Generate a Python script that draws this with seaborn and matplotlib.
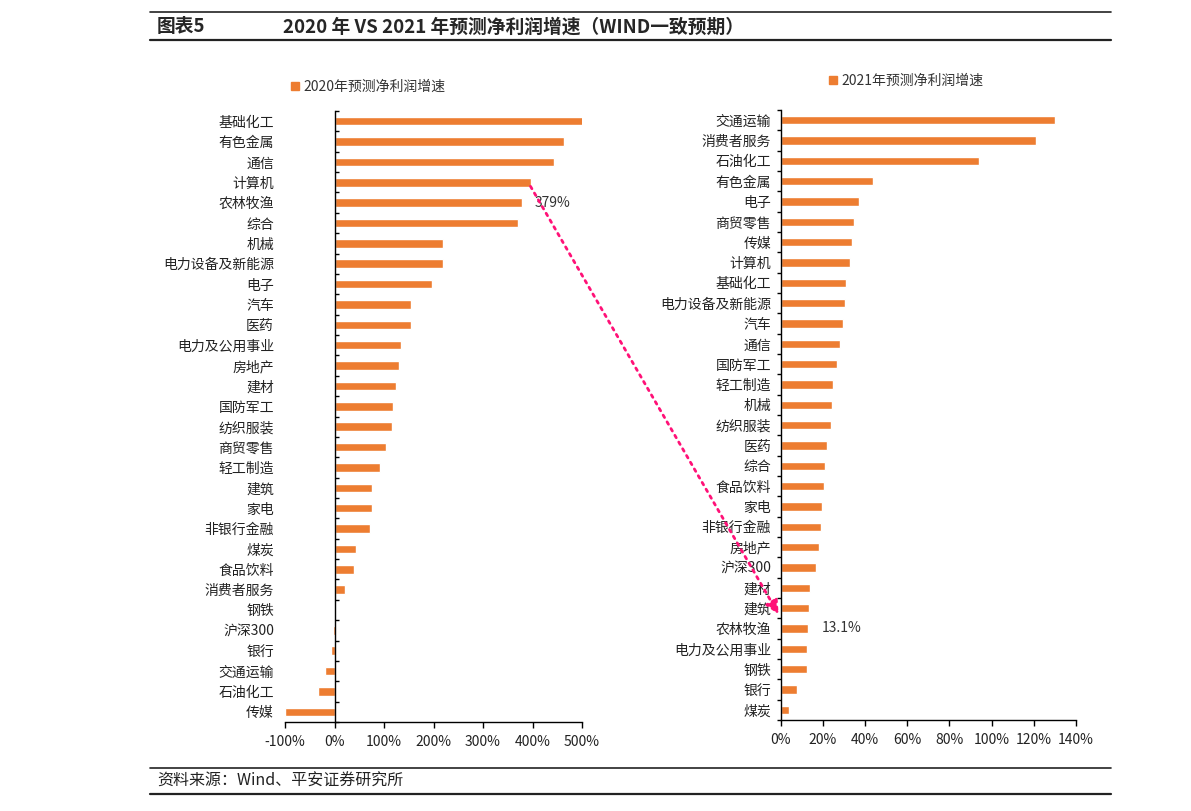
import numpy as np
import seaborn as sns
import matplotlib.pyplot as plt
from matplotlib.patches import ConnectionPatch
from matplotlib.lines import Line2D

sns.set_theme(style="white")
plt.rcParams['font.family'] = ['Noto Sans CJK SC', 'DejaVu Sans']

# 2020 forecast net profit growth (%)
cats_2020 = ['基础化工', '有色金属', '通信', '计算机', '农林牧渔', '综合', '机械', '电力设备及新能源',
             '电子', '汽车', '医药', '电力及公用事业', '房地产', '建材', '国防军工', '纺织服装',
             '商贸零售', '轻工制造', '建筑', '家电', '非银行金融', '煤炭', '食品饮料', '消费者服务',
             '钢铁', '沪深300', '银行', '交通运输', '石油化工', '传媒']
vals_2020 = [503, 463, 444, 396, 379, 370, 220, 220,
             196, 154, 154, 135, 131, 125, 119, 117,
             105, 91, 75, 75, 71, 44, 40, 22,
             1, -3, -7, -19, -34, -101]

# 2021 forecast net profit growth (%)
cats_2021 = ['交通运输', '消费者服务', '石油化工', '有色金属', '电子', '商贸零售', '传媒', '计算机',
             '基础化工', '电力设备及新能源', '汽车', '通信', '国防军工', '轻工制造', '机械', '纺织服装',
             '医药', '综合', '食品饮料', '家电', '非银行金融', '房地产', '沪深300', '建材', '建筑',
             '农林牧渔', '电力及公用事业', '钢铁', '银行', '煤炭']
vals_2021 = [130, 121, 94, 43.7, 37, 34.7, 33.7, 33,
             31, 30.4, 29.5, 28, 26.6, 25, 24.3, 23.8,
             22, 21, 20.5, 19.5, 19.3, 18, 16.6, 14, 13.5,
             13.1, 12.5, 12.3, 7.6, 3.9]

orange = '#ED7D31'
W, H = 1191, 811
fig = plt.figure(figsize=(W / 100, H / 100), dpi=100)

ax1 = fig.add_axes([285 / W, 1 - 722 / H, 297 / W, 611 / H])
ax2 = fig.add_axes([780.7 / W, 1 - 720 / H, 295.3 / W, 610 / H])

sns.barplot(x=vals_2020, y=cats_2020, color=orange, width=0.42, saturation=1, ax=ax1)
sns.barplot(x=vals_2021, y=cats_2021, color=orange, width=0.42, saturation=1, ax=ax2)

ax1.set_xlim(-100, 500)
ax1.set_xticks(np.arange(-100, 501, 100))
ax1.set_xticklabels([f'{v}%' for v in range(-100, 501, 100)])
ax2.set_xlim(0, 140)
ax2.set_xticks(np.arange(0, 141, 20))
ax2.set_xticklabels([f'{v}%' for v in range(0, 141, 20)])

for ax in (ax1, ax2):
    for s in ('top', 'right', 'left'):
        ax.spines[s].set_visible(False)
    ax.spines['bottom'].set_color('black')
    ax.spines['bottom'].set_linewidth(1)
    ax.tick_params(axis='x', which='major', bottom=True, direction='out', length=4,
                   width=1, color='black', labelsize=10, labelcolor='#222222', pad=5)
    ax.tick_params(axis='y', which='major', left=False, right=False, length=0,
                   labelsize=10, labelcolor='#222222')
    ax.set_yticks(np.arange(-0.5, 30, 1), minor=True)
    ax.set_xlabel('')
    ax.set_ylabel('')

# left chart: vertical axis line at 0 with small ticks on its right
ax1.spines['right'].set_visible(True)
ax1.spines['right'].set_position(('data', 0))
ax1.spines['right'].set_color('black')
ax1.spines['right'].set_linewidth(1)
ax1.tick_params(axis='y', which='minor', left=False, right=True, direction='out',
                length=3, width=1, color='black')
ax1.tick_params(axis='y', which='major', pad=8)

ax2.spines['left'].set_visible(True)
ax2.spines['left'].set_color('black')
ax2.spines['left'].set_linewidth(1)
ax2.tick_params(axis='y', which='minor', left=True, direction='out',
                length=3, width=1, color='black')
ax2.tick_params(axis='y', which='major', pad=7)

# legends
for ax, label, y in ((ax1, '2020年预测净利润增速', 87), (ax2, '2021年预测净利润增速', 81)):
    h = Line2D([], [], marker='s', color=orange, linestyle='none', markersize=5.5)
    x0 = 284 if ax is ax1 else 822
    fig.legend([h], [label], loc='center left', bbox_to_anchor=(x0 / W, 1 - y / H),
               frameon=False, fontsize=10, handlelength=0.6, handletextpad=0.3,
               labelcolor='#333333', borderpad=0)

# annotations
i_a = cats_2020.index('农林牧渔')
ax1.text(vals_2020[i_a] + 25, i_a, f'{vals_2020[i_a]}%', va='center', ha='left',
         fontsize=10, color='#333333')
i_b = cats_2021.index('农林牧渔')
ax2.text(vals_2021[i_b] + 6.5, i_b, f'{vals_2021[i_b]}%', va='center', ha='left',
         fontsize=10, color='#333333')

con = ConnectionPatch(xyA=(396, 3.2), coordsA=ax1.transData,
                      xyB=(-1, 24.3), coordsB=ax2.transData,
                      arrowstyle='-|>,head_length=0.8,head_width=0.4', color='#FF1177',
                      linestyle=(0, (1, 1.8)), linewidth=2.0, mutation_scale=10)
fig.add_artist(con)

# title block
fig.add_artist(Line2D([150 / W, 1111 / W], [1 - 12 / H] * 2, color='#222222', lw=1.2))
fig.add_artist(Line2D([150 / W, 1111 / W], [1 - 40 / H] * 2, color='#222222', lw=1.6))
fig.text(157 / W, 1 - 27 / H, '图表5', fontsize=13.5, fontweight='bold', va='center', ha='left')
fig.text(283 / W, 1 - 27 / H, '2020 年 VS 2021 年预测净利润增速（WIND一致预期）',
         fontsize=13.5, fontweight='bold', va='center', ha='left')

fig.add_artist(Line2D([150 / W, 1111 / W], [1 - 768 / H] * 2, color='#222222', lw=1.2))
fig.add_artist(Line2D([150 / W, 1111 / W], [1 - 794 / H] * 2, color='#222222', lw=1.6))
fig.text(157 / W, 1 - 781 / H, '资料来源：Wind、平安证券研究所', fontsize=11.5,
         style='italic', va='center', ha='left', color='#222222')

fig.savefig('out.png', dpi=100)
